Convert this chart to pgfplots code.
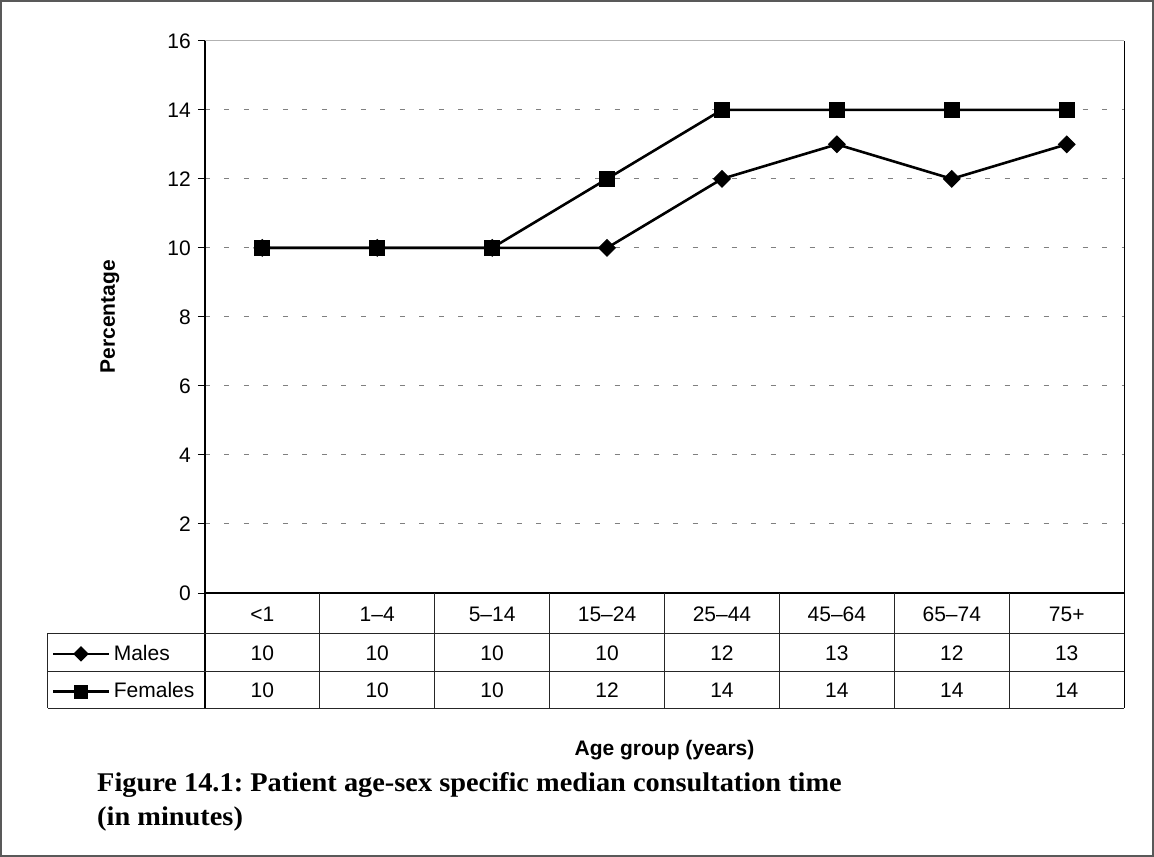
\documentclass[border=0pt]{standalone}
\usepackage{fontspec}
\setmainfont{Liberation Sans}
\newfontfamily\capfont{Liberation Serif}
\usepackage{pgfplots}
\pgfplotsset{compat=1.18}

\begin{document}
\frenchspacing
\begin{tikzpicture}
% outer frame
\draw[gray!70!black, line width=0.8pt] (-102pt,-131.5pt) rectangle (474pt,296pt);
\begin{axis}[
    at={(0pt,0pt)}, anchor=south west,
    width=459.5pt, height=276pt, scale only axis,
    xmin=-0.5, xmax=7.5, ymin=0, ymax=16,
    ytick={0,2,...,16},
    xtick={0,...,7},
    xticklabels={<1,1--4,5--14,15--24,25--44,45--64,65--74,75+},
    axis line style={draw=none},
    ytick pos=left,
    tick align=outside,
    major tick length=3.5pt,
    major x tick style={draw=none},
    major y tick style={black, line width=0.5pt},
    ymajorgrids=true,
    major grid style={gray, line width=0.5pt, dash pattern=on 2.5pt off 7.25pt},
    /pgf/number format/assume math mode=true,
    yticklabel style={font=\fontsize{10.5}{12}\selectfont},
    xticklabel style={font=\fontsize{10.5}{12}\selectfont, anchor=base, yshift=-10.5pt},
    ylabel={Percentage},
    ylabel style={at={(axis description cs:-0.1034,0.5)}, anchor=center, font=\bfseries\fontsize{10.5}{12}\selectfont},
    xlabel={Age group (years)},
    xlabel style={at={(axis description cs:0.5,-0.2844)}, anchor=center, font=\bfseries\fontsize{10.5}{12}\selectfont},
    legend image code/.code={%
        \draw[mark repeat=2, mark phase=2, #1, every mark/.append style={scale=0.85}]
            plot coordinates {(0pt,0pt) (13.75pt,0pt) (27.5pt,0pt)};},
    legend style={draw=none, fill=none,
        at={(axis description cs:-0.1665,-0.1445)}, anchor=west,
        font=\fontsize{10.5}{12}\selectfont, row sep=5.75pt, inner sep=0pt,
        /tikz/every even column/.style={column sep=0pt}},
    legend cell align=left,
]
\addplot[black, line width=1.3pt, mark=square*, mark size=2.93pt,
    mark options={rotate=45, solid, line width=0.5pt}]
    coordinates {(0,10) (1,10) (2,10) (3,10) (4,12) (5,13) (6,12) (7,13)};
\addlegendentry{Males}
\addplot[black, line width=1.3pt, mark=square*, mark size=3.75pt,
    mark options={solid, line width=0.5pt}]
    coordinates {(0,10) (1,10) (2,10) (3,12) (4,14) (5,14) (6,14) (7,14)};
\addlegendentry{Females}
\end{axis}
% axis frame
\draw[gray!60, line width=0.4pt] (0pt,276pt) -- (459.5pt,276pt);
\draw[black, line width=0.5pt] (459.5pt,276pt) -- (459.5pt,-57.5pt);
\draw[black, line width=1pt] (0pt,276pt) -- (0pt,-57.5pt);
\draw[black, line width=1pt] (0pt,0pt) -- (459.5pt,0pt);
% data table grid
\draw[black!85, line width=0.5pt] (-78.5pt,-20pt) -- (459.5pt,-20pt);
\draw[black!85, line width=0.5pt] (-78.5pt,-39pt) -- (459.5pt,-39pt);
\draw[black!85, line width=0.5pt] (-78.5pt,-57.5pt) -- (459.5pt,-57.5pt);
\draw[black!85, line width=0.5pt] (-78.5pt,-20pt) -- (-78.5pt,-57.5pt);
\foreach \k in {1,...,7}
    \draw[black!85, line width=0.5pt] (\k*57.4375pt,0pt) -- (\k*57.4375pt,-57.5pt);
\foreach \v [count=\i from 0] in {10,10,10,10,12,13,12,13}
    \node[anchor=base, inner sep=0pt, font=\fontsize{10.5}{12}\selectfont] at ({(\i+0.5)*57.4375pt},-33.5pt) {\v};
\foreach \v [count=\i from 0] in {10,10,10,12,14,14,14,14}
    \node[anchor=base, inner sep=0pt, font=\fontsize{10.5}{12}\selectfont] at ({(\i+0.5)*57.4375pt},-52pt) {\v};
% caption
\node[anchor=base west, inner sep=0pt, font=\capfont\bfseries\fontsize{13.5}{15}\selectfont]
    at (-54pt,-99.3pt) {\scalebox{1.05}[1]{Figure 14.1: Patient age-sex specific median consultation time}};
\node[anchor=base west, inner sep=0pt, font=\capfont\bfseries\fontsize{13.5}{15}\selectfont]
    at (-54pt,-116.3pt) {\scalebox{1.05}[1]{(in minutes)}};
\end{tikzpicture}
\end{document}
